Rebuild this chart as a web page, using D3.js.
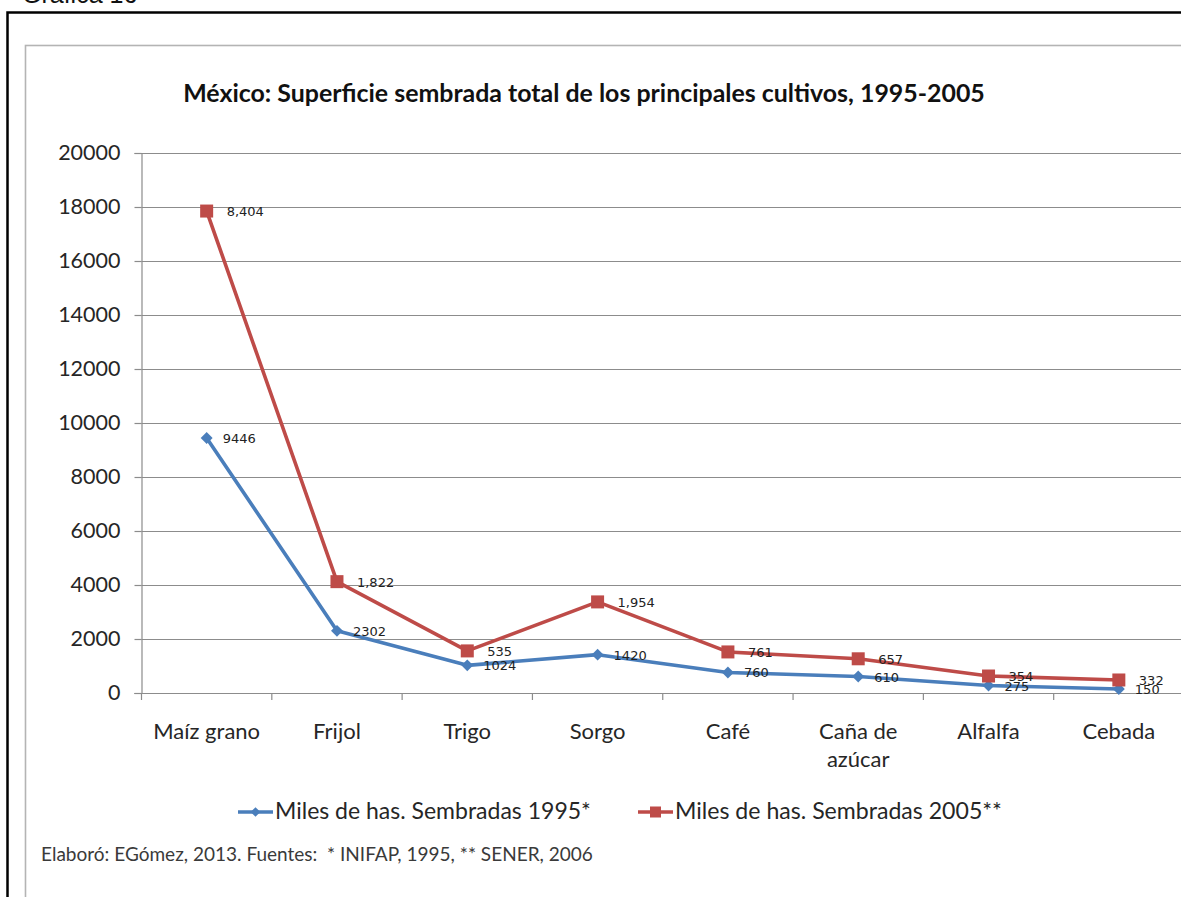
<!DOCTYPE html>
<html>
<head>
<meta charset="utf-8">
<script src="https://cdn.jsdelivr.net/npm/d3@7"></script>
<style>
  html, body { margin: 0; padding: 0; background: #fff; }
  svg { display: block; }
</style>
</head>
<body>
<svg id="chart" width="1181" height="897"></svg>
<script>
// Cultivos y superficie sembrada (miles de hectáreas)
const cultivos = ["Maíz grano", "Frijol", "Trigo", "Sorgo", "Café", "Caña de azúcar", "Alfalfa", "Cebada"];
const sembradas1995 = [9446, 2302, 1024, 1420, 760, 610, 275, 150];
const sembradas2005 = [8404, 1822, 535, 1954, 761, 657, 354, 332];
const yTicks = [0, 2000, 4000, 6000, 8000, 10000, 12000, 14000, 16000, 18000, 20000];
const seriesNames = ["Miles de has. Sembradas 1995*", "Miles de has. Sembradas 2005**"];
const titulo = "México: Superficie sembrada total de los principales cultivos, 1995-2005";
const nota = "Elaboró: EGómez, 2013. Fuentes:  * INIFAP, 1995, ** SENER, 2006";

const blue = "#4a7ebb";
const red = "#be4b48";
const textColor = "#262626";
const uiFont = "Lato, 'Open Sans', sans-serif";

const svg = d3.select("#chart");

// Fit a text element to a target width by scaling its font size
function fitWidth(sel, target) {
  const node = sel.node();
  const w = node.getComputedTextLength();
  const fs = parseFloat(sel.attr("font-size"));
  sel.attr("font-size", (fs * target / w).toFixed(2));
}

// Page caption, partly cut by the top edge
svg.append("text")
  .attr("x", 22).attr("y", 3)
  .attr("font-family", "'Liberation Sans', Arial, sans-serif")
  .attr("font-size", 25)
  .attr("fill", "#111")
  .text("Gráfica 16");

// Outer black frame
svg.append("rect")
  .attr("x", 7.5).attr("y", 12.5)
  .attr("width", 1300).attr("height", 1000)
  .attr("fill", "#fff")
  .attr("stroke", "#000").attr("stroke-width", 2.5);

// Chart area frame
svg.append("rect")
  .attr("x", 25.5).attr("y", 45.5)
  .attr("width", 1300).attr("height", 1000)
  .attr("fill", "#fff")
  .attr("stroke", "#b4b4b4").attr("stroke-width", 1.6);

// Title
const title = svg.append("text")
  .attr("x", 584).attr("y", 102)
  .attr("text-anchor", "middle")
  .attr("font-family", uiFont)
  .attr("font-weight", "bold")
  .attr("font-size", 21)
  .attr("fill", "#111")
  .text(titulo);
fitWidth(title, 802);

// Scales
const plot = { left: 141.5, right: 1184, top: 153, bottom: 693 };
const x = d3.scaleBand().domain(cultivos).range([plot.left, plot.right]).paddingInner(0).paddingOuter(0);
const y = d3.scaleLinear().domain([0, 20000]).range([plot.bottom, plot.top]);

// Stacked series: 2005 is stacked on top of 1995
const rows = cultivos.map((c, i) => ({ cultivo: c, s1995: sembradas1995[i], s2005: sembradas2005[i] }));
const stacked = d3.stack().keys(["s1995", "s2005"])(rows);

// Horizontal gridlines
svg.append("g")
  .selectAll("line")
  .data(yTicks.filter(t => t > 0))
  .join("line")
  .attr("x1", plot.left).attr("x2", 1181)
  .attr("y1", d => Math.round(y(d)) + 0.5).attr("y2", d => Math.round(y(d)) + 0.5)
  .attr("stroke", "#8c8c8c").attr("stroke-width", 1.2);

// Y axis
const yAxis = svg.append("g")
  .attr("transform", `translate(${plot.left},0)`)
  .call(d3.axisLeft(y).tickValues(yTicks).tickSize(7).tickPadding(14).tickFormat(d3.format("d")));
yAxis.select(".domain").attr("stroke", "#8c8c8c").attr("stroke-width", 1.2);
yAxis.selectAll(".tick line").attr("stroke", "#8c8c8c").attr("stroke-width", 1.2);
yAxis.selectAll(".tick text")
  .attr("font-family", uiFont).attr("font-size", 21.5).attr("fill", textColor);

// X axis with ticks on category boundaries
const xAxisG = svg.append("g").attr("transform", `translate(0,${plot.bottom})`);
xAxisG.append("line")
  .attr("x1", plot.left - 7).attr("x2", 1181)
  .attr("y1", 0.5).attr("y2", 0.5)
  .attr("stroke", "#8c8c8c").attr("stroke-width", 1.2);
xAxisG.selectAll("line.tk")
  .data(cultivos)
  .join("line").attr("class", "tk")
  .attr("x1", d => x(d)).attr("x2", d => x(d))
  .attr("y1", 0).attr("y2", 7)
  .attr("stroke", "#8c8c8c").attr("stroke-width", 1.2);

// Category labels (wrapped where the name is long)
const catLabels = xAxisG.selectAll("text.cat")
  .data(cultivos)
  .join("text").attr("class", "cat")
  .attr("x", d => x(d) + x.bandwidth() / 2)
  .attr("y", 46)
  .attr("text-anchor", "middle")
  .attr("font-family", uiFont).attr("font-size", 22)
  .attr("fill", textColor);
catLabels.each(function (d) {
  const t = d3.select(this);
  const lines = d === "Caña de azúcar" ? ["Caña de", "azúcar"] : [d];
  lines.forEach((ln, i) => {
    t.append("tspan")
      .attr("x", x(d) + x.bandwidth() / 2)
      .attr("dy", i === 0 ? 0 : 28)
      .text(ln);
  });
});

// Lines and markers
const cx = d => x(d.data.cultivo) + x.bandwidth() / 2;
const line = d3.line().x(cx).y(d => y(d[1]));

const colors = [blue, red];
stacked.forEach((s, k) => {
  svg.append("path")
    .datum(s)
    .attr("fill", "none")
    .attr("stroke", colors[k])
    .attr("stroke-width", 3.6)
    .attr("stroke-linejoin", "round")
    .attr("d", line);
});

// 1995 markers: diamonds
svg.append("g").selectAll("path")
  .data(stacked[0])
  .join("path")
  .attr("transform", d => `translate(${cx(d)},${y(d[1])})`)
  .attr("d", d3.symbol(d3.symbolDiamond2, 90)())
  .attr("fill", blue);

// 2005 markers: squares
svg.append("g").selectAll("rect")
  .data(stacked[1])
  .join("rect")
  .attr("x", d => cx(d) - 6.5).attr("y", d => y(d[1]) - 6.5)
  .attr("width", 13).attr("height", 13)
  .attr("fill", red);

// Data labels with the series' own values
const labelFont = "'DejaVu Sans', Verdana, sans-serif";
svg.append("g").selectAll("text")
  .data(stacked[0])
  .join("text")
  .attr("x", d => cx(d) + 16)
  .attr("y", d => y(d[1]) + 5)
  .attr("font-family", labelFont).attr("font-size", 13)
  .attr("fill", "#222")
  .text((d, i) => d3.format("d")(sembradas1995[i]));

svg.append("g").selectAll("text")
  .data(stacked[1])
  .join("text")
  .attr("x", d => cx(d) + 20)
  .attr("y", d => y(d[1]) + 5)
  .attr("font-family", labelFont).attr("font-size", 13)
  .attr("fill", "#222")
  .text((d, i) => d3.format(",")(sembradas2005[i]));

// Legend
const legend = svg.append("g");
const legendItems = [
  { name: seriesNames[0], color: blue, x0: 238, tx: 275, w: 316, marker: "diamond" },
  { name: seriesNames[1], color: red, x0: 638, tx: 675, w: 327, marker: "square" }
];
legendItems.forEach(it => {
  const ly = 812;
  legend.append("line")
    .attr("x1", it.x0).attr("x2", it.tx - 2)
    .attr("y1", ly).attr("y2", ly)
    .attr("stroke", it.color).attr("stroke-width", 3.6);
  if (it.marker === "diamond") {
    legend.append("path")
      .attr("transform", `translate(${(it.x0 + it.tx - 2) / 2},${ly})`)
      .attr("d", d3.symbol(d3.symbolDiamond2, 60)())
      .attr("fill", it.color);
  } else {
    legend.append("rect")
      .attr("x", (it.x0 + it.tx - 2) / 2 - 5.5).attr("y", ly - 5.5)
      .attr("width", 11).attr("height", 11)
      .attr("fill", it.color);
  }
  const t = legend.append("text")
    .attr("x", it.tx).attr("y", ly + 7)
    .attr("font-family", uiFont).attr("font-size", 20)
    .attr("fill", textColor)
    .text(it.name);
  fitWidth(t, it.w);
});

// Source note
const src = svg.append("text")
  .attr("x", 41).attr("y", 861)
  .attr("font-family", uiFont).attr("font-size", 15)
  .attr("fill", "#3a3a3a")
  .style("white-space", "pre")
  .text(nota);
fitWidth(src, 552);
</script>
</body>
</html>
